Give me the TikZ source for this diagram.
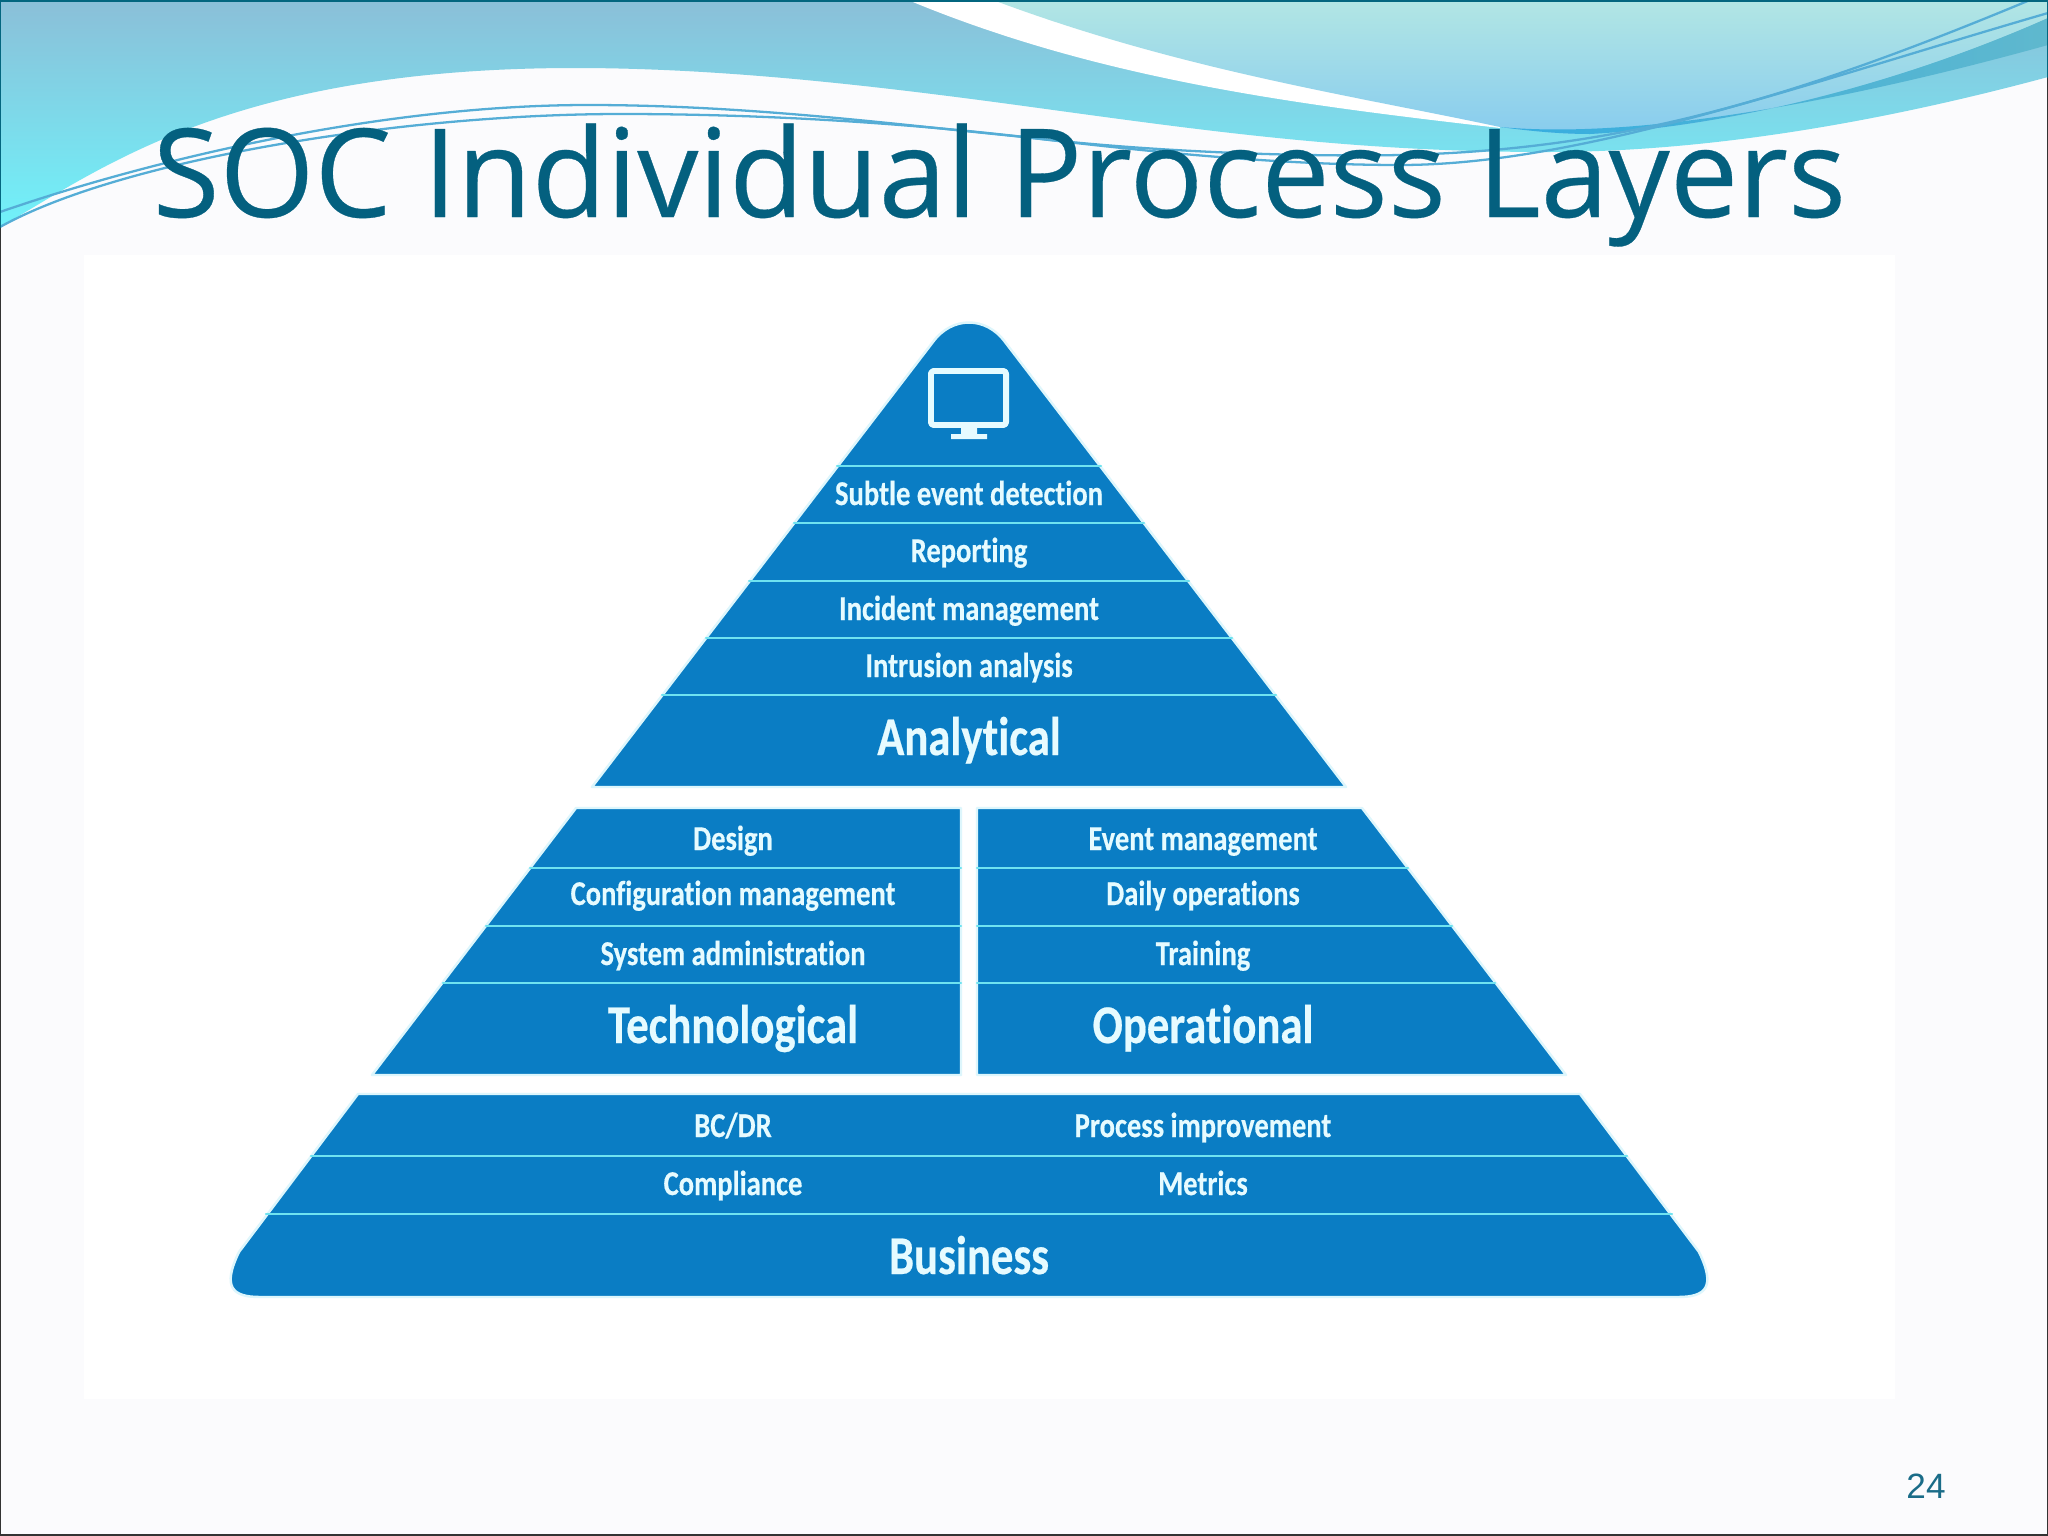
\documentclass[tikz,border=0pt]{standalone}
\usepackage{fontspec}
\setmainfont{Liberation Sans}
\newfontfamily\titlefont[FakeStretch=0.99,FakeBold=0.25]{Open Sans}
\newfontfamily\layerfont[FakeStretch=0.82,Ligatures=NoCommon,BoldFeatures={FakeBold=0.4}]{Carlito}
\definecolor{slidebg}{HTML}{FBFBFD}
\definecolor{titleblue}{HTML}{04607F}
\definecolor{pageblue}{HTML}{1A6C88}
\definecolor{layerblue}{HTML}{0A7DC4}
\definecolor{layerline}{HTML}{6FE3F0}
\definecolor{layertext}{HTML}{E6FBFF}
\definecolor{layerglow}{HTML}{DDF6FC}
\definecolor{swooshline}{HTML}{55ADD6}
\definecolor{waveTop}{HTML}{8BBFD8}
\definecolor{waveLow}{HTML}{70F2FA}
\definecolor{crestTop}{HTML}{B2E6E4}
\definecolor{crestLow}{HTML}{88CCEE}
\definecolor{stripA}{HTML}{35ADE0}
\definecolor{stripB}{HTML}{5FB8CE}
\tikzset{
layer/.style={fill=layerblue,draw=layerglow,line width=.7pt},
sep/.style={draw=layerline,line width=.6pt},
small/.style={anchor=base,text=layertext,font=\layerfont\bfseries\fontsize{9.9}{12}\selectfont,inner sep=0pt},
big/.style={anchor=base,text=layertext,font=\layerfont\bfseries\fontsize{15.5}{18}\selectfont,inner sep=0pt},
swoosh/.style={draw=swooshline,line width=.65pt}
}
\begin{document}
\begin{tikzpicture}[x=.01cm,y=-.01cm,line join=round,line cap=round]
\useasboundingbox (0,0) rectangle (2048,1536);
\fill[slidebg] (0,0) rectangle (2048,1536);
\fill[white] (84,255) rectangle (1895,1399);
% header swooshes
\shade[top color=waveTop,bottom color=waveLow]
(0,0)--(2048,0)--(2048,77) .. controls (1870,125) and (1700,152) .. (1547,152)
.. controls (1350,152) and (1200,130) .. (1024,106)
.. controls (870,85) and (720,68) .. (575,68)
.. controls (230,68) and (100,170) .. (0,227)--cycle;
\fill[white] (908,0) .. controls (1100,80) and (1300,105) .. (1500,128)--(1500,120)--(993,0)--cycle;
\shade[top color=crestTop,bottom color=crestLow]
(993,0) .. controls (1180,70) and (1350,95) .. (1500,127)
.. controls (1530,131) and (1560,134) .. (1590,134)
.. controls (1750,125) and (1920,75) .. (2048,18)--(2048,0)--cycle;
\shade[left color=stripA,right color=stripB]
(1500,127) .. controls (1530,131) and (1560,134) .. (1590,134)
.. controls (1750,125) and (1920,75) .. (2048,18)--(2048,45)
.. controls (1850,100) and (1640,140) .. (1500,127)--cycle;
\draw[swoosh] (0,212) .. controls (150,160) and (380,105) .. (588,105)
.. controls (750,105) and (900,125) .. (1024,137)
.. controls (1150,152) and (1300,157) .. (1400,155)
.. controls (1620,150) and (1790,100) .. (2030,0);
\draw[swoosh] (0,227) .. controls (120,160) and (400,114) .. (621,114)
.. controls (780,114) and (920,125) .. (1024,137)
.. controls (1150,152) and (1280,165) .. (1400,165)
.. controls (1580,165) and (1800,85) .. (2048,13);
% slide frame
\draw[black!80,line width=.8pt] (0,227)--(0,1535)--(2048,1535)--(2048,77);
\draw[titleblue!80!teal,line width=.8pt] (0,227)--(0,.5)--(2048,.5)--(2048,77);
% pyramid blocks
\path[layer] (933,342) .. controls (952,316) and (986,316) .. (1005,342)--(1346,787)--(592,787)--cycle;
\path[layer] (576,808)--(961,808)--(961,1075)--(372,1075)--cycle;
\path[layer] (977,808)--(1362,808)--(1566,1075)--(977,1075)--cycle;
\path[layer] (358,1094)--(1580,1094)--(1699,1252) .. controls (1716,1287) and (1706,1297) .. (1678,1297)
--(260,1297) .. controls (232,1297) and (222,1287) .. (239,1252)--cycle;
% rows
\foreach \a/\b/\c in {837/1101/466, 794/1144/523, 749/1189/581, 706/1232/638, 662/1276/695,
530/961/868, 486/961/926, 443/961/983, 977/1408/868, 977/1452/926, 977/1495/983,
311/1627/1156, 266/1672/1214}
\draw[sep] (\a,\c)--(\b,\c);
% monitor
\draw[draw=layertext,line width=1.7pt,rounded corners=.8pt] (931,371) rectangle (1006,425);
\fill[layertext] (961,428) rectangle (977,435) (951,434) rectangle (987,439);
% labels
\foreach \n/\x/\y/\t in {sed/969/505/Subtle event detection, rep/969/562/Reporting, inc/969/620/Incident management,
intr/969/677/Intrusion analysis, des/733/850/Design, cfg/733/905/Configuration management,
sys/733/965/System administration, evt/1203/850/Event management, day/1203/905/Daily operations,
trn/1203/965/Training, bcd/733/1137/{BC/DR}, prc/1203/1137/Process improvement,
cmp/733/1195/Compliance, met/1203/1195/Metrics}
\node[small] (\n) at (\x,\y) {\t};
\foreach \n/\x/\y/\t in {ana/969/755/Analytical, tec/733/1043/Technological, ope/1203/1043/Operational, bus/969/1274/Business}
\node[big] (\n) at (\x,\y) {\t};
\node[anchor=base west,inner sep=0pt,text=titleblue,font=\titlefont\fontsize{35}{40}\selectfont] (title) at (152,217) {SOC Individual Process Layers};
\node[text=pageblue,inner sep=0pt,font=\fontsize{10}{12}\selectfont] (page) at (1926,1486) {24};
\end{tikzpicture}
\end{document}
